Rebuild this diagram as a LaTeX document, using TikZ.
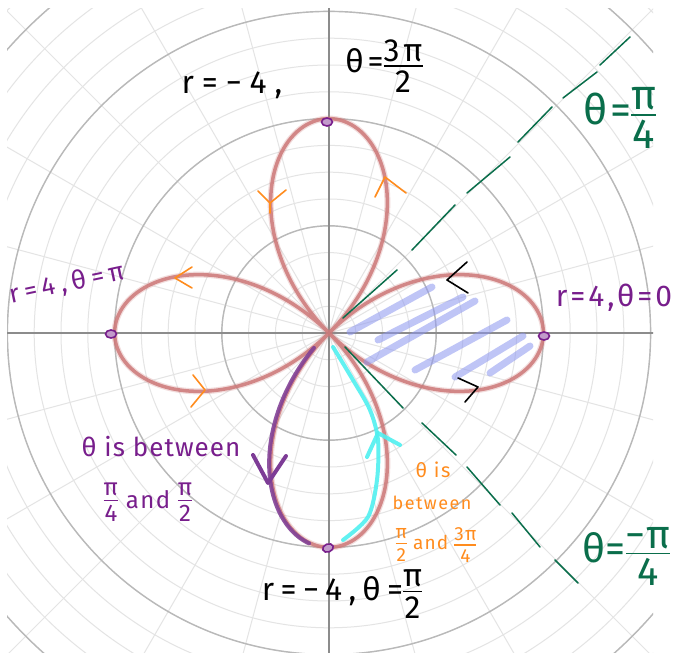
\documentclass[tikz,border=0pt]{standalone}
\usepackage{fontspec}
\setmainfont{Fira Sans}
\newfontfamily\hand{Fira Sans}
\usetikzlibrary{shapes.geometric}
\definecolor{rosec}{RGB}{205,120,120}
\definecolor{hatchc}{RGB}{140,150,240}
\definecolor{greenc}{RGB}{10,110,75}
\definecolor{purpc}{RGB}{120,30,140}
\definecolor{purpstroke}{RGB}{125,60,150}
\definecolor{cyanc}{RGB}{80,240,240}
\definecolor{orangec}{RGB}{255,140,30}
\definecolor{gridlight}{RGB}{228,228,228}
\definecolor{griddark}{RGB}{185,185,185}
\definecolor{axisc}{RGB}{140,140,140}
\newcommand\fr[2]{\ensuremath{\vcenter{\halign{\hfil##\hfil\cr #1\cr\noalign{\kern4pt\hrule height 1.4pt\kern4pt}#2\cr}}}}
\newcommand\fsz[2]{\fontsize{#1}{#1}\selectfont\addfontfeatures{LetterSpace=#2}}
\begin{document}
\begin{tikzpicture}[x=1pt,y=-1pt,
  lbl/.style={inner sep=0pt, font=\hand, align=center},
  tipdot/.style={ellipse, draw=purpc, fill=purpc!45, line width=1.6pt, minimum width=11pt, minimum height=8pt, inner sep=0pt},
  chev/.style={line width=1.6pt, line cap=round, line join=round},
  hatchline/.style={hatchc, opacity=0.55, line width=7pt, line cap=round},
  gdash/.style={greenc, line width=1.5pt, line cap=round},
  rosepath/.style={rosec, line width=3.5pt, opacity=0.85}]
\useasboundingbox (0,0) rectangle (678,655);
\fill[white] (0,0) rectangle (678,655);
% grid
\begin{scope}
\clip (7,9) rectangle (653,652);
\begin{scope}[shift={(329,333)}, x=53.6pt, y=53.6pt]
  \foreach \a in {0,15,...,345} \draw[gridlight, line width=1pt] (0,0) -- (\a:10);
  \foreach \r in {0.5,1,...,9} \draw[gridlight, line width=1pt] (0,0) circle (\r);
  \foreach \r in {2,4,6,8} \draw[griddark, line width=1.4pt] (0,0) circle (\r);
  \draw[axisc, line width=1.8pt] (-7,0) -- (7,0);
  \draw[axisc, line width=1.8pt] (0,-7) -- (0,7);
  % rose
  \draw[rosec, line width=6pt, opacity=0.25] plot[domain=0:360, samples=361, smooth] (\x:{4*cos(2*\x)}) -- cycle;
  \draw[rosepath] plot[domain=0:360, samples=361, smooth] (\x:{4*cos(2*\x)}) -- cycle;
  % purple highlight of lower-left half
  \draw[purpstroke, opacity=0.85, line width=4pt, line cap=round, xshift=-1.5pt] plot[domain=47.7:85, samples=60, smooth] (\x:{4*cos(2*\x)});
\end{scope}
\end{scope}
% hatching in right petal
\draw[hatchline] (350,332) -- (432,287);
\draw[hatchline] (378,340) -- (463,297);
\draw[hatchline] (367,362) -- (475,301);
\draw[hatchline] (415,370) -- (507,320);
\draw[hatchline] (455,377) -- (523,336);
\draw[hatchline] (490,373) -- (530,346);
% cyan highlight of lower-right half
\draw[cyanc, opacity=0.9, line width=4pt, line cap=round] plot[smooth] coordinates {(333,347) (353,380) (370,410) (378,440) (377,480) (368,517) (343,540)};
\draw[cyanc, opacity=0.9, line width=4pt, line cap=round, line join=round] (367,457) -- (378,433) -- (400,445);
% purple arrow
\draw[purpstroke, line width=4pt, line cap=round, line join=round] (253,455) -- (268,483) -- (286,456);
% green dashed rays
\draw[gdash] (343,318) -- (397,270);
\draw[gdash] (412,250) -- (455,205);
\draw[gdash] (467,193) -- (510,157);
\draw[gdash] (518,142) -- (552,107);
\draw[gdash] (563,98) -- (597,72);
\draw[gdash] (600,65) -- (630,37);
\draw[gdash] (345,347) -- (403,408);
\draw[gdash] (422,423) -- (456,455);
\draw[gdash] (467,467) -- (500,505);
\draw[gdash] (512,513) -- (540,547);
\draw[gdash] (555,560) -- (578,583);
% direction chevrons
\draw[chev, orangec] (192,267) -- (175,278) -- (192,288);
\draw[chev, orangec] (193,375) -- (205,390) -- (191,407);
\draw[chev, orangec] (258,191) -- (270,203) -- (286,190) (270,203) -- (270,213);
\draw[chev, orangec] (375,197) -- (385,177) -- (406,193);
\draw[chev, black] (467,262) -- (447,280) -- (468,293);
\draw[chev, black] (458,378) -- (478,387) -- (465,402);
% tip dots
\node[tipdot] (tipT) at (327,122) {};
\node[tipdot] (tipL) at (111,334) {};
\node[tipdot] (tipR) at (544,336) {};
\node[tipdot, rotate=20] (tipB) at (328,548) {};
% labels
\node[lbl, text=black] (lblA) at (232,85) {\fsz{32}{25}r=−4,};
\node[lbl, text=black] (lblB) at (384,66) {\fsz{32}{12}θ=\fr{3π}{2}};
\node[lbl, text=greenc] (lblC) at (620,118) {\fsz{42}{6}θ=\fr{π}{4}};
\node[lbl, text=purpc] (lblD) at (614,298) {\fsz{30}{10}r=4,θ=0};
\node[lbl, text=purpc, rotate=12] (lblE) at (67,284) {\fsz{26}{20}r=4,θ=π};
\node[lbl, text=purpc] (lblF) at (161,447) {\fsz{26}{4}θ is between};
\node[lbl, text=purpc] (lblG) at (148,502) {\fsz{24}{6}\fr{π}{4} and \fr{π}{2}};
\node[lbl, text=orangec] (lblH1) at (433,470) {\fsz{20}{8}θ is};
\node[lbl, text=orangec] (lblH2) at (432,503) {\fsz{18}{8}between};
\node[lbl, text=orangec] (lblH3) at (436,545) {\fsz{19}{6}\fr{π}{2} and \fr{3π}{4}};
\node[lbl, text=greenc] (lblI) at (626,556) {\fsz{40}{2}θ=\fr{−π}{4}};
\node[lbl, text=black] (lblJ) at (342,594) {\fsz{32}{20}r=−4,θ=\fr{π}{2}};
\end{tikzpicture}
\end{document}
